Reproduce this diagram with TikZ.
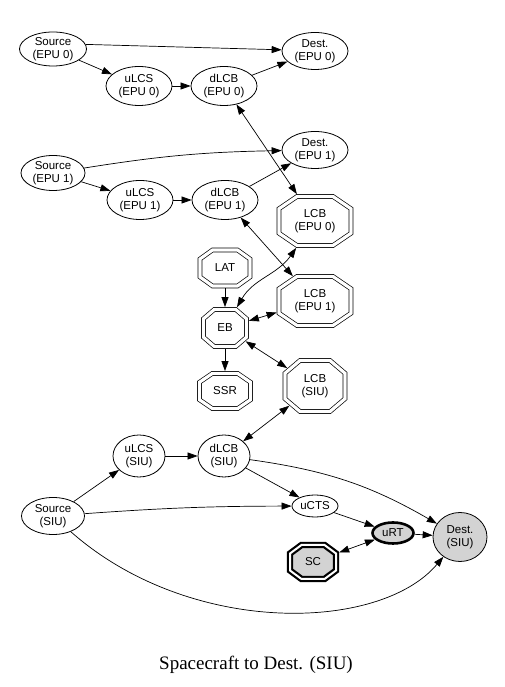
\documentclass[tikz,border=0pt]{standalone}
\usepackage{fontspec}
\setmainfont{Liberation Sans}
\newfontfamily\titlefont{Liberation Serif}
\usetikzlibrary{shapes.geometric,arrows.meta}
\definecolor{lgray}{HTML}{D3D3D3}
\makeatletter
\def\goct@f{0.5}
\pgfdeclareshape{goct}{%
  \inheritsavedanchors[from=rectangle]%
  \inheritanchor[from=rectangle]{center}%
  \inheritanchor[from=rectangle]{north}%
  \inheritanchor[from=rectangle]{south}%
  \inheritanchor[from=rectangle]{east}%
  \inheritanchor[from=rectangle]{west}%
  \inheritanchor[from=rectangle]{base}%
  \inheritanchor[from=rectangle]{mid}%
  \anchorborder{%
    \edef\goct@dx{\the\pgf@x}%
    \edef\goct@dy{\the\pgf@y}%
    \pgf@process{\southwest}%
    \pgf@xa=\pgf@x \pgf@ya=\pgf@y
    \pgf@process{\northeast}%
    \advance\pgf@x by-\pgf@xa \advance\pgf@y by-\pgf@ya
    \pgf@xb=.5\pgf@x \pgf@yb=.5\pgf@y
    \advance\pgf@xa by\pgf@xb \advance\pgf@ya by\pgf@yb
    \edef\goct@a{\the\pgf@xb}\edef\goct@b{\the\pgf@yb}%
    \edef\goct@cx{\the\pgf@xa}\edef\goct@cy{\the\pgf@ya}%
    \pgfmathsetmacro\goct@u{abs(\goct@dx)/\goct@a}%
    \pgfmathsetmacro\goct@v{abs(\goct@dy)/\goct@b}%
    \pgfmathsetmacro\goct@m{max(\goct@u,\goct@v,(\goct@u+\goct@v)/(2-\goct@f),0.00001)}%
    \pgfmathsetmacro\goct@rx{\goct@dx/\goct@m+\goct@cx}%
    \pgfmathsetmacro\goct@ry{\goct@dy/\goct@m+\goct@cy}%
    \pgf@x=\goct@rx pt\relax
    \pgf@y=\goct@ry pt\relax
  }%
  \backgroundpath{%
    \pgf@process{\southwest}%
    \pgf@xa=\pgf@x \pgf@ya=\pgf@y
    \pgf@process{\northeast}%
    \pgf@xb=\pgf@x \pgf@yb=\pgf@y
    \pgfmathsetlength\pgf@xc{\pgfkeysvalueof{/pgf/outer xsep}}%
    \pgfmathsetlength\pgf@yc{\pgfkeysvalueof{/pgf/outer ysep}}%
    \advance\pgf@xa by\pgf@xc \advance\pgf@ya by\pgf@yc
    \advance\pgf@xb by-\pgf@xc \advance\pgf@yb by-\pgf@yc
    \edef\goct@xa{\the\pgf@xa}\edef\goct@ya{\the\pgf@ya}%
    \edef\goct@xb{\the\pgf@xb}\edef\goct@yb{\the\pgf@yb}%
    \pgfmathsetmacro\goct@fx{\goct@f*(\goct@xb-\goct@xa)/2}%
    \pgfmathsetmacro\goct@fy{\goct@f*(\goct@yb-\goct@ya)/2}%
    \pgfpathmoveto{\pgfpoint{\goct@xa+\goct@fx pt}{\goct@ya}}%
    \pgfpathlineto{\pgfpoint{\goct@xb-\goct@fx pt}{\goct@ya}}%
    \pgfpathlineto{\pgfpoint{\goct@xb}{\goct@ya+\goct@fy pt}}%
    \pgfpathlineto{\pgfpoint{\goct@xb}{\goct@yb-\goct@fy pt}}%
    \pgfpathlineto{\pgfpoint{\goct@xb-\goct@fx pt}{\goct@yb}}%
    \pgfpathlineto{\pgfpoint{\goct@xa+\goct@fx pt}{\goct@yb}}%
    \pgfpathlineto{\pgfpoint{\goct@xa}{\goct@yb-\goct@fy pt}}%
    \pgfpathlineto{\pgfpoint{\goct@xa}{\goct@ya+\goct@fy pt}}%
    \pgfpathclose
  }%
}
\makeatother
\begin{document}
\begin{tikzpicture}[x=1pt,y=1pt,
  every node/.style={font=\fontsize{11.5}{13.5}\selectfont, align=center, inner sep=0pt},
  ell/.style={draw, ellipse, line width=0.8pt, minimum width=66pt, minimum height=37pt},
  oct/.style={draw, goct, line width=0.7pt, double, double distance=3.2pt, outer sep=2.4pt},
  arr/.style={-{Triangle[length=10pt,width=7pt]}, line width=0.7pt},
  barr/.style={{Triangle[length=10pt,width=7pt]}-{Triangle[length=10pt,width=7pt]}, line width=0.7pt}
]
\useasboundingbox (0,0) rectangle (505,687);
% EPU 0
\node[ell, minimum width=67pt, minimum height=34pt] (s0) at (53,638) {Source\\(EPU 0)};
\node[ell] (d0) at (315,636) {Dest.\\(EPU 0)};
\node[ell, minimum height=39pt] (u0) at (139,601) {uLCS\\(EPU 0)};
\node[ell, minimum height=39pt] (dl0) at (224,601) {dLCB\\(EPU 0)};
% EPU 1
\node[ell] (d1) at (315,537) {Dest.\\(EPU 1)};
\node[ell, minimum width=64pt, minimum height=35pt] (s1) at (53,514) {Source\\(EPU 1)};
\node[ell, minimum height=39pt] (u1) at (140,487) {uLCS\\(EPU 1)};
\node[ell, minimum height=39pt] (dl1) at (225,487) {dLCB\\(EPU 1)};
% octagons
\node[oct, minimum width=72pt, minimum height=49pt] (lcb0) at (315,466) {LCB\\(EPU 0)};
\node[oct, minimum width=72pt, minimum height=49pt] (lcb1) at (315,386) {LCB\\(EPU 1)};
\node[oct, minimum width=60pt, minimum height=51pt] (lcbs) at (315,301) {LCB\\(SIU)};
\node[oct, minimum width=50pt, minimum height=36pt] (lat) at (225,419) {LAT};
\node[oct, minimum width=43pt, minimum height=37pt] (eb) at (225,359) {EB};
\node[oct, minimum width=51pt, minimum height=35pt] (ssr) at (225,296) {SSR};
% SIU
\node[ell, minimum width=52pt, minimum height=42pt] (us) at (139,231) {uLCS\\(SIU)};
\node[ell, minimum width=52pt, minimum height=42pt] (dls) at (224,231) {dLCB\\(SIU)};
\node[ell, minimum width=63pt, minimum height=37pt] (ss) at (53,171) {Source\\(SIU)};
\node[ell, minimum width=46pt, minimum height=22pt] (ucts) at (315,181) {uCTS};
\node[ell, minimum width=41pt, minimum height=21pt, line width=2.6pt, fill=lgray, outer sep=1.3pt] (urt) at (393,154) {uRT};
\node[ell, minimum width=54pt, minimum height=49pt, fill=lgray] (ds) at (460,150) {Dest.\\(SIU)};
\node[draw, goct, line width=2.2pt, double, double distance=2pt, fill=lgray, outer sep=3.2pt,
      minimum width=46pt, minimum height=34pt] (sc) at (313,125) {SC};
% title
\node[font=\titlefont\fontsize{19}{22}\selectfont, anchor=base] (title) at (256,17) {Spacecraft to Dest. (SIU)};
% edges EPU 0
\draw[arr] (s0.8) -- (d0.178);
\draw[arr] (s0) -- (u0);
\draw[arr] (u0) -- (dl0);
\draw[arr] (dl0) -- (d0);
\draw[barr] (dl0) -- (lcb0);
% edges EPU 1
\draw[arr] (s1) to[bend left=4] (d1);
\draw[arr] (s1) -- (u1);
\draw[arr] (u1) -- (dl1);
\draw[arr] (dl1) -- (d1);
\draw[barr] (dl1) -- (lcb1);
% EB
\draw[arr] (lat) -- (eb);
\draw[arr] (eb) -- (ssr);
\draw[barr] (eb) to[out=60,in=235] (lcb0);
\draw[barr] (eb) -- (lcb1);
\draw[barr] (eb) -- (lcbs);
\draw[barr] (lcbs) -- (dls);
% SIU
\draw[arr] (ss) -- (us);
\draw[arr] (us) -- (dls);
\draw[arr] (dls) -- (ucts);
\draw[arr] (dls) to[out=-8,in=150] (ds);
\draw[arr] (ss) to[bend left=2] (ucts);
\draw[arr] (ucts) -- (urt);
\draw[arr] (urt) -- (ds);
\draw[barr] (urt) -- (sc);
\draw[arr] (ss) .. controls (190,50) and (380,55) .. (ds);
\end{tikzpicture}
\end{document}
